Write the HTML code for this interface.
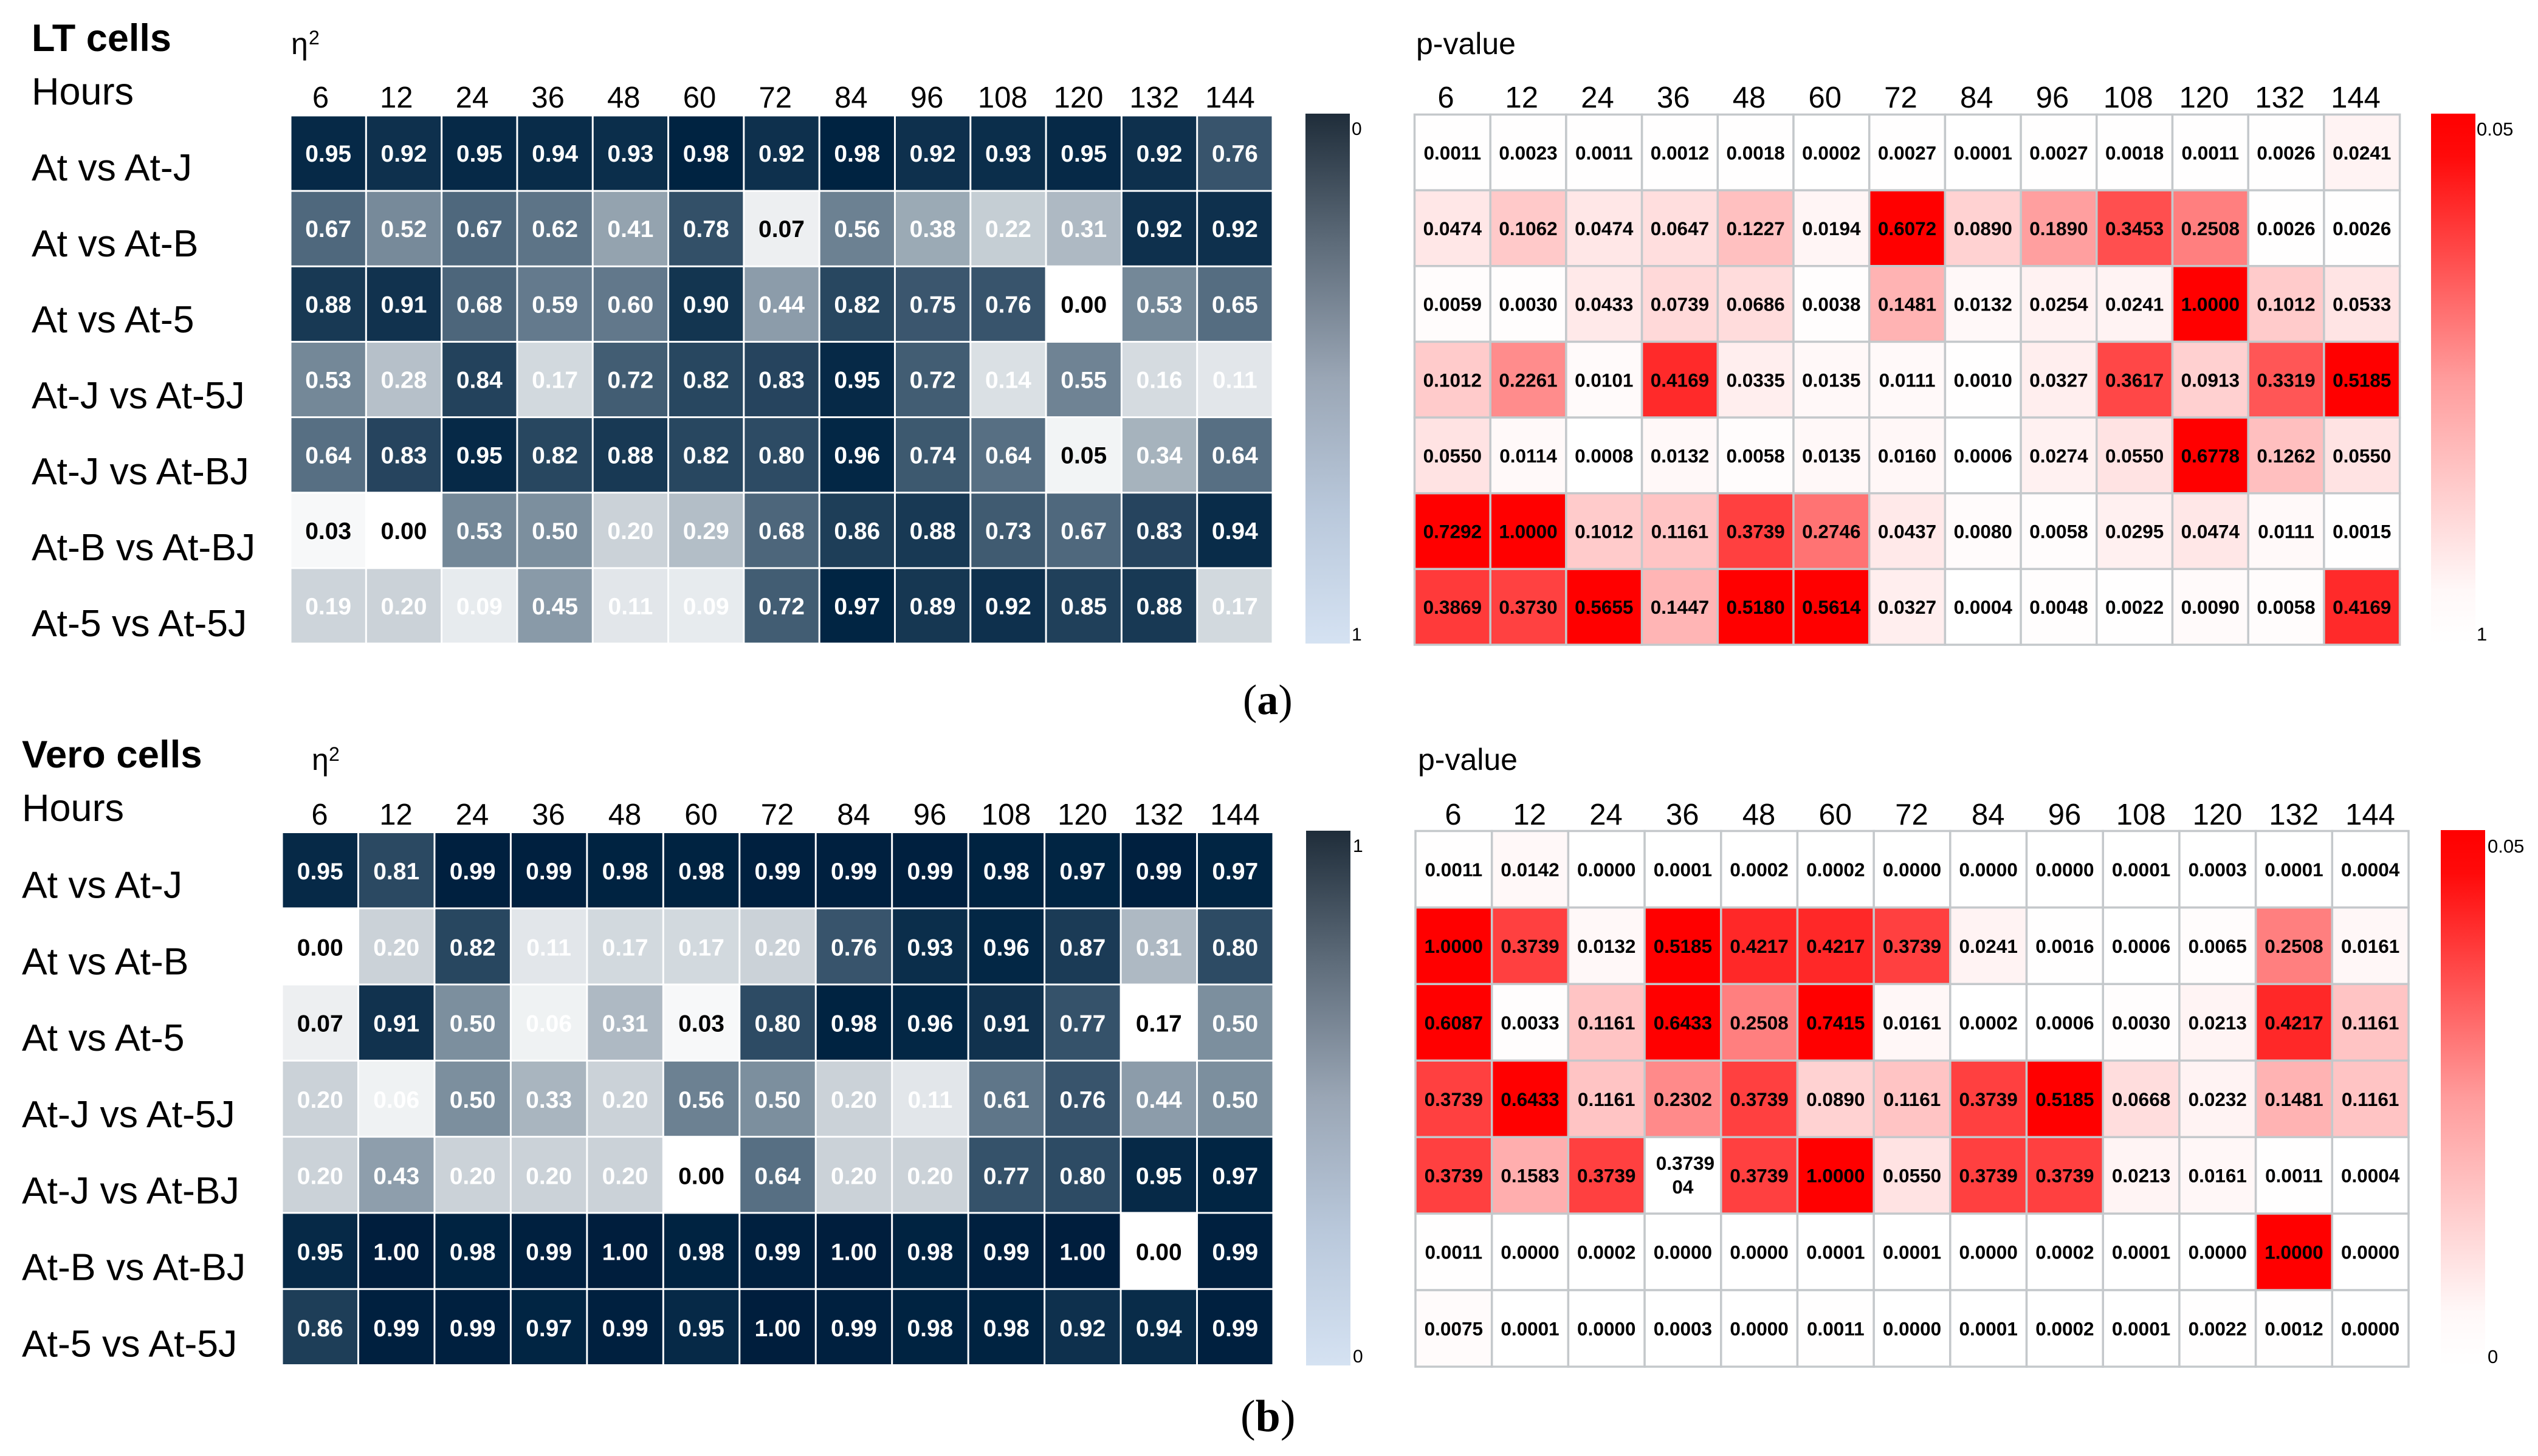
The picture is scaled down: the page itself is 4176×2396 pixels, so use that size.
<!DOCTYPE html>
<html lang="en">
<head>
<meta charset="utf-8">
<title>LT and Vero cells heatmaps</title>
<style>
html,body{margin:0;padding:0;background:#fff;}
svg{display:block;}
text{font-family:"Liberation Sans",Arial,sans-serif;fill:#000;}
.serif{font-family:"Liberation Serif","Times New Roman",serif;}
</style>
</head>
<body>
<svg id="figure" xmlns="http://www.w3.org/2000/svg" width="4176" height="2396" viewBox="0 0 4176 2396">
<defs>
<linearGradient id="navyBarDown" x1="0" y1="0" x2="0" y2="1">
<stop offset="0" stop-color="#1f2d3a"/><stop offset=".25" stop-color="#5f6d7b"/><stop offset=".5" stop-color="#9aa6b5"/><stop offset=".75" stop-color="#b9c8db"/><stop offset="1" stop-color="#d5e2f2"/>
</linearGradient>
<linearGradient id="redBarDown" x1="0" y1="0" x2="0" y2="1">
<stop offset="0" stop-color="#ff0000"/><stop offset=".08" stop-color="#ff0a0a"/><stop offset=".5" stop-color="#ff9c9c"/><stop offset=".9" stop-color="#fff8f8"/><stop offset="1" stop-color="#ffffff"/>
</linearGradient>
</defs>
<rect x="0" y="0" width="4176" height="2396" fill="#fff"/>

<g>
<text x="52" y="84" font-size="63" font-weight="bold">LT cells</text>
<text x="52" y="172" font-size="63">Hours</text>
<text x="479" y="89" font-size="50">η</text>
<text x="508" y="73" font-size="32">2</text>
<text x="2330" y="89" font-size="50">p-value</text>
</g>
<g>
<text x="36" y="1263" font-size="63.5" font-weight="bold">Vero cells</text>
<text x="36" y="1351" font-size="63">Hours</text>
<text x="513" y="1267" font-size="50">η</text>
<text x="541" y="1252" font-size="32">2</text>
<text x="2333" y="1267" font-size="50">p-value</text>
</g>

<g>
<rect x="2148" y="187" width="73" height="872" fill="url(#navyBarDown)"/>
<text x="2224" y="222" font-size="30">0</text>
<text x="2224" y="1054" font-size="30">1</text>
</g>
<g>
<rect x="4000" y="187" width="73" height="873" fill="url(#redBarDown)"/>
<text x="4075" y="223" font-size="31">0.05</text>
<text x="4075" y="1054" font-size="31">1</text>
</g>
<g>
<rect x="2149" y="1367" width="73" height="880" fill="url(#navyBarDown)"/>
<text x="2226" y="1402" font-size="30">1</text>
<text x="2226" y="2242" font-size="30">0</text>
</g>
<g>
<rect x="4016" y="1366" width="73" height="883" fill="url(#redBarDown)"/>
<text x="4093" y="1403" font-size="31">0.05</text>
<text x="4093" y="2243" font-size="31">0</text>
</g>

<g>
<text class="serif" x="2045" y="1175" font-size="70">(<tspan font-weight="bold">a</tspan>)</text>
</g>
<g>
<text class="serif" x="2041" y="2355" font-size="74">(<tspan font-weight="bold">b</tspan>)</text>
</g>
<g id="charts"></g>
</svg>

<script>
const hours = [6, 12, 24, 36, 48, 60, 72, 84, 96, 108, 120, 132, 144];
const comparisons = ["At vs At-J", "At vs At-B", "At vs At-5", "At-J vs At-5J", "At-J vs At-BJ", "At-B vs At-BJ", "At-5 vs At-5J"];

const ltEta = [
  [0.95,0.92,0.95,0.94,0.93,0.98,0.92,0.98,0.92,0.93,0.95,0.92,0.76],
  [0.67,0.52,0.67,0.62,0.41,0.78,0.07,0.56,0.38,0.22,0.31,0.92,0.92],
  [0.88,0.91,0.68,0.59,0.60,0.90,0.44,0.82,0.75,0.76,0.00,0.53,0.65],
  [0.53,0.28,0.84,0.17,0.72,0.82,0.83,0.95,0.72,0.14,0.55,0.16,0.11],
  [0.64,0.83,0.95,0.82,0.88,0.82,0.80,0.96,0.74,0.64,0.05,0.34,0.64],
  [0.03,0.00,0.53,0.50,0.20,0.29,0.68,0.86,0.88,0.73,0.67,0.83,0.94],
  [0.19,0.20,0.09,0.45,0.11,0.09,0.72,0.97,0.89,0.92,0.85,0.88,0.17]
];
const ltP = [
  [0.0011,0.0023,0.0011,0.0012,0.0018,0.0002,0.0027,0.0001,0.0027,0.0018,0.0011,0.0026,0.0241],
  [0.0474,0.1062,0.0474,0.0647,0.1227,0.0194,0.6072,0.0890,0.1890,0.3453,0.2508,0.0026,0.0026],
  [0.0059,0.0030,0.0433,0.0739,0.0686,0.0038,0.1481,0.0132,0.0254,0.0241,1.0000,0.1012,0.0533],
  [0.1012,0.2261,0.0101,0.4169,0.0335,0.0135,0.0111,0.0010,0.0327,0.3617,0.0913,0.3319,0.5185],
  [0.0550,0.0114,0.0008,0.0132,0.0058,0.0135,0.0160,0.0006,0.0274,0.0550,0.6778,0.1262,0.0550],
  [0.7292,1.0000,0.1012,0.1161,0.3739,0.2746,0.0437,0.0080,0.0058,0.0295,0.0474,0.0111,0.0015],
  [0.3869,0.3730,0.5655,0.1447,0.5180,0.5614,0.0327,0.0004,0.0048,0.0022,0.0090,0.0058,0.4169]
];
const veroEta = [
  [0.95,0.81,0.99,0.99,0.98,0.98,0.99,0.99,0.99,0.98,0.97,0.99,0.97],
  [0.00,0.20,0.82,0.11,0.17,0.17,0.20,0.76,0.93,0.96,0.87,0.31,0.80],
  [0.07,0.91,0.50,0.06,0.31,0.03,0.80,0.98,0.96,0.91,0.77,0.17,0.50],
  [0.20,0.06,0.50,0.33,0.20,0.56,0.50,0.20,0.11,0.61,0.76,0.44,0.50],
  [0.20,0.43,0.20,0.20,0.20,0.00,0.64,0.20,0.20,0.77,0.80,0.95,0.97],
  [0.95,1.00,0.98,0.99,1.00,0.98,0.99,1.00,0.98,0.99,1.00,0.00,0.99],
  [0.86,0.99,0.99,0.97,0.99,0.95,1.00,0.99,0.98,0.98,0.92,0.94,0.99]
];
const veroP = [
  [0.0011,0.0142,0.0000,0.0001,0.0002,0.0002,0.0000,0.0000,0.0000,0.0001,0.0003,0.0001,0.0004],
  [1.0000,0.3739,0.0132,0.5185,0.4217,0.4217,0.3739,0.0241,0.0016,0.0006,0.0065,0.2508,0.0161],
  [0.6087,0.0033,0.1161,0.6433,0.2508,0.7415,0.0161,0.0002,0.0006,0.0030,0.0213,0.4217,0.1161],
  [0.3739,0.6433,0.1161,0.2302,0.3739,0.0890,0.1161,0.3739,0.5185,0.0668,0.0232,0.1481,0.1161],
  [0.3739,0.1583,0.3739,0.373904,0.3739,1.0000,0.0550,0.3739,0.3739,0.0213,0.0161,0.0011,0.0004],
  [0.0011,0.0000,0.0002,0.0000,0.0000,0.0001,0.0001,0.0000,0.0002,0.0001,0.0000,1.0000,0.0000],
  [0.0075,0.0001,0.0000,0.0003,0.0000,0.0011,0.0000,0.0001,0.0002,0.0001,0.0022,0.0012,0.0000]
];
/* values printed in black on the eta maps, values left unfilled on the p maps,
   and the [row, column] of eta cells the source left unfilled with a black value */
const etaDarkLabelValues = [0, 0.03, 0.05, 0.07];
const pUnfilledValues = [0.373904];
const ltEtaUnfilledCells = [];
const veroEtaUnfilledCells = [[2, 11]];

const SVG_NS = "http://www.w3.org/2000/svg";
const chartsRoot = document.getElementById("charts");

function svgEl(tag, attrs, parent) {
  const el = document.createElementNS(SVG_NS, tag);
  for (const k in attrs) el.setAttribute(k, attrs[k]);
  parent.appendChild(el);
  return el;
}

function etaColor(v) {
  const t = Math.max(0, Math.min(1, v));
  const r = Math.max(0, Math.round(255 - 262 * t));
  const g = Math.round(255 - 225 * t);
  const b = Math.round(255 - 194 * t);
  return "rgb(" + r + "," + g + "," + b + ")";
}
function pColor(v) {
  if (pUnfilledValues.indexOf(v) >= 0) return "#ffffff";
  const t = Math.max(0, Math.min(1, v / 0.5));
  const c = Math.round(255 - 255 * t);
  return "rgb(255," + c + "," + c + ")";
}

function xScale(layout, i) { return layout.left + i * (layout.right - layout.left) / hours.length; }
function yScale(layout, j) { return layout.top + j * (layout.bottom - layout.top) / comparisons.length; }
function tickX(layout, i) { return layout.tickStart + i * layout.tickStep; }

function drawEtaHeatmap(id, layout, values, unfilledCells) {
  const g = svgEl("g", {}, chartsRoot);
  
  
  const cw = xScale(layout, 1) - xScale(layout, 0);
  const ch = yScale(layout, 1) - yScale(layout, 0);
  values.forEach(function (row, j) {
    row.forEach(function (v, i) {
      const unfilled = unfilledCells.some(function (c) { return c[0] === j && c[1] === i; });
      const rect = svgEl("rect", { x: xScale(layout, i) + 1.5, y: yScale(layout, j) + 1.5, width: cw - 3, height: ch - 3, fill: unfilled ? "#ffffff" : etaColor(v) }, g);
      
      
      const dark = unfilled || etaDarkLabelValues.indexOf(v) >= 0;
      const label = svgEl("text", { x: xScale(layout, i) + cw / 2, y: yScale(layout, j) + ch / 2 + layout.valueOffset, "font-size": 39, "font-weight": "bold", "text-anchor": "middle" }, g);
      
      
      label.style.fill = dark ? "#000" : "#fff";
      label.textContent = v.toFixed(2);
    });
  });
}

function drawPHeatmap(id, layout, values) {
  const g = svgEl("g", {}, chartsRoot);
  
  
  const cw = xScale(layout, 1) - xScale(layout, 0);
  const ch = yScale(layout, 1) - yScale(layout, 0);
  values.forEach(function (row, j) {
    row.forEach(function (v, i) {
      const rect = svgEl("rect", { x: xScale(layout, i), y: yScale(layout, j), width: cw, height: ch, fill: pColor(v), stroke: "#c4c8cb", "stroke-width": 3.5 }, g);
      
      
    });
  });
  values.forEach(function (row, j) {
    row.forEach(function (v, i) {
      const cx = xScale(layout, i) + cw / 2;
      const cy = yScale(layout, j) + ch / 2;
      const full = String(v);
      const overlong = full.length > 6;
      const label = svgEl("text", { x: cx, y: cy + 11.5, "font-size": 31.5, "font-weight": "bold", "text-anchor": "middle" }, g);
      
      
      if (overlong) {
        label.setAttribute("y", cy - 9);
        const first = svgEl("tspan", { x: cx + 4 }, label);
        first.textContent = full.slice(0, 6);
        const second = svgEl("tspan", { x: cx, dy: 39 }, label);
        second.textContent = full.slice(6);
      } else {
        label.textContent = v.toFixed(4);
      }
    });
  });
}

function drawHourTicks(id, layout) {
  const g = svgEl("g", {}, chartsRoot);
  
  
  hours.forEach(function (h, i) {
    const t = svgEl("text", { x: tickX(layout, i), y: layout.tickBaseline, "font-size": 49, "text-anchor": "middle" }, g);
    
    
    t.textContent = h;
  });
}

function drawRowLabels(id, x, baseline, step) {
  const g = svgEl("g", {}, chartsRoot);
  
  
  comparisons.forEach(function (c, j) {
    const t = svgEl("text", { x: x, y: baseline + j * step, "font-size": 62.5 }, g);
    
    
    t.textContent = c;
  });
}

const ltEtaLayout = { left: 478, right: 2094, top: 190, bottom: 1059, tickStart: 527.5, tickStep: 124.7, tickBaseline: 177, valueOffset: 14 };
const ltPLayout = { left: 2327.5, right: 3948.6, top: 188.5, bottom: 1061, tickStart: 2379, tickStep: 124.75, tickBaseline: 177 };
const veroEtaLayout = { left: 464, right: 2095, top: 1369.5, bottom: 2246.5, tickStart: 526, tickStep: 125.5, tickBaseline: 1357, valueOffset: 15 };
const veroPLayout = { left: 2329, right: 3963, top: 1367.5, bottom: 2249, tickStart: 2391, tickStep: 125.75, tickBaseline: 1357 };

drawRowLabels("lt", 52, 297, 125);
drawRowLabels("vero", 36, 1477.5, 125.8);
drawHourTicks("lt-eta", ltEtaLayout);
drawHourTicks("lt-p", ltPLayout);
drawHourTicks("vero-eta", veroEtaLayout);
drawHourTicks("vero-p", veroPLayout);
drawEtaHeatmap("lt", ltEtaLayout, ltEta, ltEtaUnfilledCells);
drawPHeatmap("lt", ltPLayout, ltP);
drawEtaHeatmap("vero", veroEtaLayout, veroEta, veroEtaUnfilledCells);
drawPHeatmap("vero", veroPLayout, veroP);
</script>
</body>
</html>
